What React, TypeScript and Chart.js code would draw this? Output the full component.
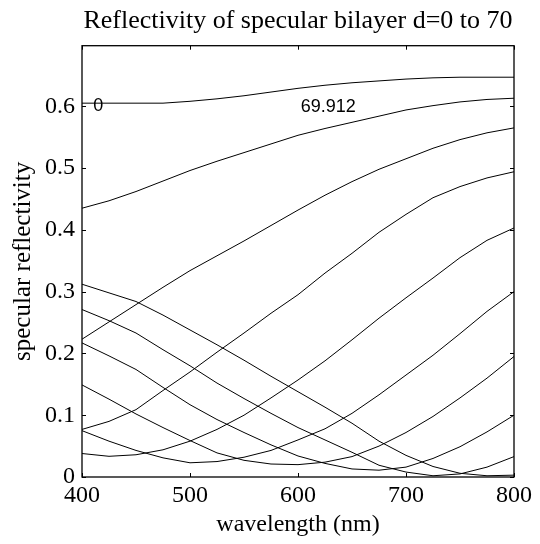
import React, { useEffect, useRef } from 'react';
import { Chart, registerables } from 'chart.js';

Chart.register(...registerables);

const wavelengths = [400, 425, 450, 475, 500, 525, 550, 575, 600, 625, 650, 675, 700, 725, 750, 775, 800];

const r_d0 = [0.605, 0.605, 0.605, 0.605, 0.608, 0.612, 0.617, 0.623, 0.629, 0.634, 0.638, 0.641, 0.644, 0.646, 0.647, 0.647, 0.647];
const r_d1 = [0.435, 0.447, 0.462, 0.479, 0.496, 0.511, 0.525, 0.539, 0.553, 0.564, 0.574, 0.584, 0.594, 0.601, 0.607, 0.611, 0.613];
const r_d2 = [0.223, 0.251, 0.279, 0.307, 0.334, 0.358, 0.382, 0.407, 0.432, 0.456, 0.478, 0.498, 0.515, 0.532, 0.546, 0.557, 0.565];
const r_d3 = [0.077, 0.09, 0.109, 0.14, 0.17, 0.202, 0.233, 0.265, 0.295, 0.33, 0.362, 0.396, 0.425, 0.452, 0.47, 0.484, 0.494];
const r_d4 = [0.038, 0.0335, 0.036, 0.044, 0.058, 0.077, 0.1, 0.128, 0.157, 0.188, 0.222, 0.257, 0.29, 0.322, 0.355, 0.383, 0.403];
const r_d5 = [0.075, 0.058, 0.043, 0.031, 0.023, 0.025, 0.032, 0.043, 0.06, 0.078, 0.103, 0.133, 0.165, 0.197, 0.232, 0.268, 0.3];
const r_d6 = [0.149, 0.126, 0.102, 0.08, 0.059, 0.039, 0.027, 0.021, 0.02, 0.024, 0.033, 0.05, 0.072, 0.098, 0.128, 0.16, 0.195];
const r_d7 = [0.217, 0.196, 0.174, 0.145, 0.117, 0.093, 0.072, 0.052, 0.034, 0.022, 0.013, 0.011, 0.016, 0.03, 0.049, 0.073, 0.1];
const r_d8 = [0.271, 0.253, 0.233, 0.206, 0.18, 0.152, 0.127, 0.103, 0.08, 0.06, 0.04, 0.019, 0.008, 0.002, 0.005, 0.016, 0.033];
const r_d9 = [0.312, 0.298, 0.284, 0.262, 0.238, 0.214, 0.189, 0.163, 0.138, 0.113, 0.087, 0.058, 0.035, 0.017, 0.006, 0.002, 0.003];

const seriesNames = ['d=0', 'd=7.768', 'd=15.536', 'd=23.304', 'd=31.072', 'd=38.84', 'd=46.608', 'd=54.376', 'd=62.144', 'd=69.912'];
const seriesValues = [r_d0, r_d1, r_d2, r_d3, r_d4, r_d5, r_d6, r_d7, r_d8, r_d9];

const xTicks = [400, 500, 600, 700, 800];
const yTicks = [0, 0.1, 0.2, 0.3, 0.4, 0.5, 0.6];

const curveLabels = [
  { text: '0', x: 415, y: 0.601 },
  { text: '69.912', x: 628, y: 0.599 },
];

const titleText = 'Reflectivity of specular bilayer d=0 to 70';
const xTitle = 'wavelength (nm)';
const yTitle = 'specular reflectivity';

const SERIF = '"Liberation Serif", "Times New Roman", Times, serif';
const SANS = '"Liberation Sans", Arial, Helvetica, sans-serif';

const framePlugin = {
  id: 'matlabFrame',
  afterDatasetsDraw(chart: any) {
    const { ctx, chartArea: a, scales } = chart;
    const x = scales.x;
    const y = scales.y;
    ctx.save();
    ctx.strokeStyle = '#000';
    ctx.lineWidth = 1.3;
    ctx.strokeRect(a.left, a.top, a.right - a.left, a.bottom - a.top);
    ctx.lineWidth = 1;
    const L = 4;
    ctx.beginPath();
    xTicks.forEach((v) => {
      const px = Math.round(x.getPixelForValue(v)) + 0.5;
      ctx.moveTo(px, a.bottom);
      ctx.lineTo(px, a.bottom - L);
      ctx.moveTo(px, a.top);
      ctx.lineTo(px, a.top + L);
    });
    yTicks.forEach((v) => {
      const py = Math.round(y.getPixelForValue(v)) + 0.5;
      ctx.moveTo(a.left, py);
      ctx.lineTo(a.left + L, py);
      ctx.moveTo(a.right, py);
      ctx.lineTo(a.right - L, py);
    });
    ctx.stroke();
    ctx.font = '18px ' + SANS;
    ctx.fillStyle = '#000';
    ctx.textAlign = 'center';
    ctx.textBaseline = 'middle';
    curveLabels.forEach((l) => {
      ctx.fillText(l.text, x.getPixelForValue(l.x), y.getPixelForValue(l.y));
    });
    // axes title, centred over the plot box as MATLAB does
    ctx.font = '26px ' + SERIF;
    ctx.textBaseline = 'alphabetic';
    ctx.fillText(titleText, (a.left + a.right) / 2, 28);
    ctx.restore();
  },
};

export default function App() {
  const ref = useRef<HTMLCanvasElement | null>(null);

  useEffect(() => {
    const canvas = ref.current;
    if (!canvas) return;
    const chart = new Chart(canvas, {
      type: 'line',
      data: {
        datasets: seriesValues.map((vals, i) => ({
          label: seriesNames[i],
          data: wavelengths.map((w, j) => ({ x: w, y: vals[j] })),
          borderColor: '#000',
          borderWidth: 1,
          pointRadius: 0,
          tension: 0,
          fill: false,
        })),
      },
      options: {
        animation: false,
        responsive: false,
        devicePixelRatio: 1,
        events: [],
        layout: { padding: { left: 0, right: 26, top: 45.7, bottom: 0 } },
        plugins: {
          legend: { display: false },
          tooltip: { enabled: false },
          title: { display: false },
        },
        scales: {
          x: {
            type: 'linear',
            min: 400,
            max: 800,
            afterBuildTicks: (s: any) => {
              s.ticks = xTicks.map((v) => ({ value: v }));
            },
            afterFit: (s: any) => {
              s.height = 67;
            },
            ticks: {
              color: '#000',
              font: { family: SERIF, size: 24 },
              padding: 4,
              maxRotation: 0,
              autoSkip: false,
              callback: (v: any) => String(v),
            },
            grid: { display: false, drawTicks: false },
            border: { display: false },
            title: {
              display: true,
              text: xTitle,
              color: '#000',
              font: { family: SERIF, size: 24 },
              padding: { top: 0, bottom: 5 },
            },
          },
          y: {
            type: 'linear',
            min: 0,
            max: 0.698,
            afterBuildTicks: (s: any) => {
              s.ticks = yTicks.map((v) => ({ value: v }));
            },
            afterFit: (s: any) => {
              s.width = 82;
            },
            ticks: {
              color: '#000',
              font: { family: SERIF, size: 24 },
              padding: 7,
              autoSkip: false,
              callback: (v: any) => String(+Number(v).toFixed(1)),
            },
            grid: { display: false, drawTicks: false },
            border: { display: false },
            title: {
              display: true,
              text: yTitle,
              color: '#000',
              font: { family: SERIF, size: 25 },
              padding: { top: 8, bottom: 0 },
            },
          },
        },
      },
      plugins: [framePlugin],
    });
    return () => chart.destroy();
  }, []);

  return (
    <div style={{ position: 'absolute', left: 0, top: 0, width: 540, height: 544, background: '#fff' }}>
      <canvas ref={ref} width={540} height={544} style={{ display: 'block', width: 540, height: 544 }} />
    </div>
  );
}
